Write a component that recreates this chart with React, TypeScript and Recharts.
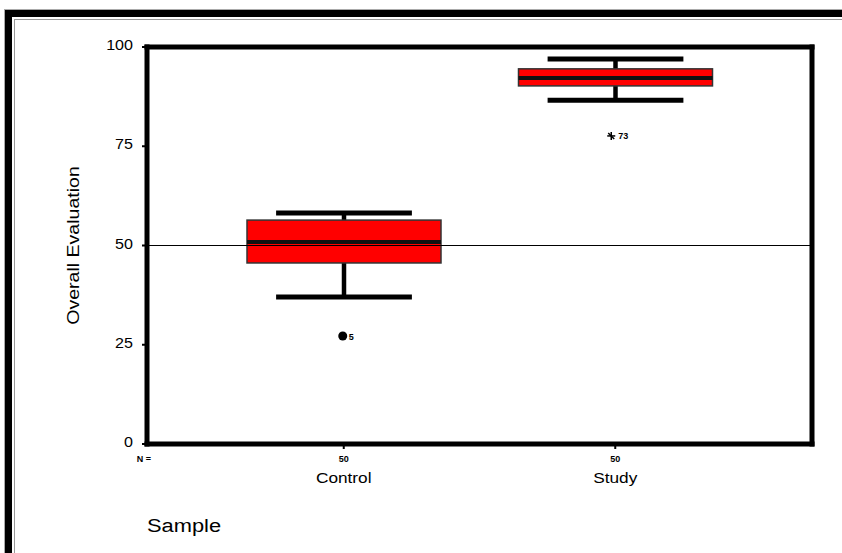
import React from "react"
import {
  ComposedChart,
  Bar,
  Line,
  Scatter,
  XAxis,
  YAxis,
  ReferenceLine,
  Label,
} from "recharts"

// values
const categories = ["Control", "Study"]
const counts = [50, 50]
const whiskerLow = [37.0, 86.6]
const q1 = [45.6, 90.2]
const median = [50.9, 92.2]
const q3 = [56.4, 94.5]
const whiskerHigh = [58.2, 97.0]
const outlierValue = [27.2, 77.6]
const outlierCase = ["5", "73"]
const outlierKind = ["circle", "star"]
const yTicks = [0, 25, 50, 75, 100]

const rows = categories.map((name, i) => ({
  name,
  n: counts[i],
  whisker: [whiskerLow[i], whiskerHigh[i]],
  q1: q1[i],
  median: median[i],
  q3: q3[i],
  outlier: outlierValue[i],
  caseNo: outlierCase[i],
  kind: outlierKind[i],
}))

const FONT = "'Liberation Sans', Arial, sans-serif"
const SX = 1.15 // old-style wide text

function BoxShape(props: any) {
  const { x, y, width, height, payload } = props
  const [lo, hi] = payload.whisker
  const k = height / (hi - lo)
  const py = (v: number) => y + (hi - v) * k
  const cx = x + width / 2
  const capW = width * 0.7
  return (
    <g>
      <line x1={cx} x2={cx} y1={py(hi)} y2={py(lo)} stroke="#000" strokeWidth={4.5} />
      <line x1={cx - capW / 2} x2={cx + capW / 2} y1={py(hi)} y2={py(hi)} stroke="#000" strokeWidth={5} />
      <line x1={cx - capW / 2} x2={cx + capW / 2} y1={py(lo)} y2={py(lo)} stroke="#000" strokeWidth={5} />
      <rect
        x={x}
        y={py(payload.q3)}
        width={width}
        height={py(payload.q1) - py(payload.q3)}
        fill="#ff0000"
        stroke="#333"
        strokeWidth={1.5}
      />
      <line x1={x} x2={x + width} y1={py(payload.median)} y2={py(payload.median)} stroke="#111" strokeWidth={4} />
    </g>
  )
}

function OutlierShape(props: any) {
  const { cx, cy, payload } = props
  if (payload.kind === "circle") {
    return (
      <g>
        <circle cx={cx - 1} cy={cy} r={4.5} fill="#000" />
        <text x={cx + 5} y={cy + 3.5} fontSize={9} fontWeight="bold" fontFamily={FONT} fill="#000">
          {payload.caseNo}
        </text>
      </g>
    )
  }
  const r = 4
  return (
    <g stroke="#000" strokeWidth={1.5}>
      <line x1={cx - r - 4} x2={cx + r - 4} y1={cy} y2={cy} />
      <line x1={cx - 4} x2={cx - 4} y1={cy - r} y2={cy + r} />
      <line x1={cx - 7} x2={cx - 1} y1={cy - 3} y2={cy + 3} />
      <text x={cx + 3} y={cy + 3.5} fontSize={9} fontWeight="bold" fontFamily={FONT} fill="#000" stroke="none">
        {payload.caseNo}
      </text>
    </g>
  )
}

function YTick({ x, y, payload }: any) {
  return (
    <g transform={`translate(${x - 7},${y + 3}) scale(${SX},1)`}>
      <text textAnchor="end" fontSize={14} fontFamily={FONT} fill="#000">
        {payload.value}
      </text>
    </g>
  )
}

function XTick({ x, y, payload, index }: any) {
  return (
    <g>
      <text x={x} y={y + 11} textAnchor="middle" fontSize={9} fontWeight="bold" fontFamily={FONT} fill="#000">
        {counts[index]}
      </text>
      <g transform={`translate(${x},${y + 32}) scale(${SX},1)`}>
        <text textAnchor="middle" fontSize={15} fontFamily={FONT} fill="#000">
          {payload.value}
        </text>
      </g>
    </g>
  )
}

function XLabel({ viewBox }: any) {
  const { x, y } = viewBox
  return (
    <g>
      <text x={x - 3} y={y + 18} textAnchor="middle" fontSize={9} fontWeight="bold" fontFamily={FONT} fill="#000">
        N =
      </text>
      <g transform={`translate(${x},${y + 88}) scale(${SX},1)`}>
        <text fontSize={19} fontFamily={FONT} fill="#000">
          Sample
        </text>
      </g>
    </g>
  )
}

function YLabel({ viewBox }: any) {
  const { y, height } = viewBox
  return (
    <g transform={`translate(79,${y + height / 2}) rotate(-90) scale(${SX},1)`}>
      <text textAnchor="middle" fontSize={17} fontFamily={FONT} fill="#000">
        Overall Evaluation
      </text>
    </g>
  )
}

const frameLine = { stroke: "#000", strokeWidth: 5, strokeLinecap: "square" as const }

export default function App() {
  return (
    <div style={{ position: "absolute", left: 0, top: 0, width: 842, height: 553, background: "#fff" }}>
      <ComposedChart
        width={842}
        height={553}
        data={rows}
        margin={{ top: 46, right: 29, bottom: 49, left: 0 }}
      >
        <XAxis
          dataKey="name"
          height={60}
          padding={{ left: 61, right: 61 }}
          axisLine={frameLine}
          tickLine={{ stroke: "#000", strokeWidth: 2 }}
          tickSize={5}
          tick={<XTick />}
          interval={0}
        >
          <Label content={<XLabel />} />
        </XAxis>
        <XAxis
          xAxisId="top"
          orientation="top"
          dataKey="name"
          height={1}
          padding={{ left: 61, right: 61 }}
          tick={false}
          tickLine={false}
          axisLine={frameLine}
        />
        <YAxis
          width={147}
          domain={[0, 100]}
          ticks={yTicks}
          axisLine={frameLine}
          tickLine={{ stroke: "#000", strokeWidth: 2 }}
          tickSize={5}
          tick={<YTick />}
          interval={0}
        >
          <Label content={<YLabel />} />
        </YAxis>
        <YAxis
          yAxisId="right"
          orientation="right"
          width={1}
          domain={[0, 100]}
          tick={false}
          tickLine={false}
          axisLine={frameLine}
        />
        {/* invisible series so the top/right frame axes are drawn */}
        <Line
          xAxisId="top"
          yAxisId="right"
          dataKey="median"
          stroke="none"
          dot={false}
          activeDot={false}
          isAnimationActive={false}
        />
        <Bar dataKey="whisker" barSize={194} shape={<BoxShape />} isAnimationActive={false} />
        <Scatter dataKey="outlier" shape={<OutlierShape />} isAnimationActive={false} />
        <ReferenceLine y={50} stroke="#000" strokeWidth={1} />
      </ComposedChart>
      {/* window frame (top and left edges only) */}
      <div style={{ position: "absolute", left: 4, top: 9, width: 838, height: 1, background: "#aaa" }} />
      <div style={{ position: "absolute", left: 4, top: 9, width: 1, height: 544, background: "#aaa" }} />
      <div style={{ position: "absolute", left: 5, top: 10, width: 837, height: 7, background: "#000" }} />
      <div style={{ position: "absolute", left: 5, top: 10, width: 7, height: 543, background: "#000" }} />
      <div style={{ position: "absolute", left: 14, top: 19, width: 828, height: 1, background: "#999" }} />
      <div style={{ position: "absolute", left: 14, top: 19, width: 1, height: 534, background: "#999" }} />
    </div>
  )
}
